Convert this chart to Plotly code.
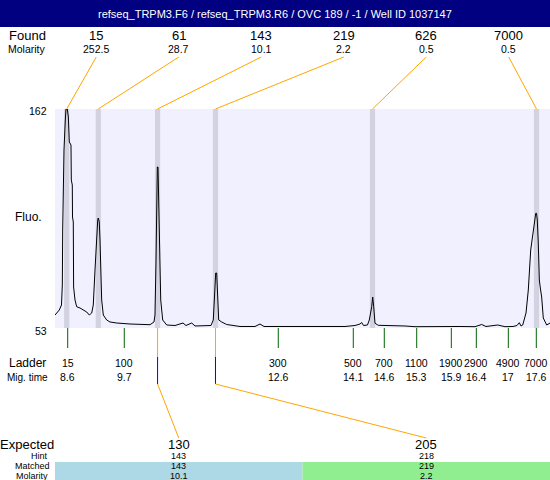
import plotly.graph_objects as go

W, H = 550, 480
title_text = "refseq_TRPM3.F6 / refseq_TRPM3.R6 / OVC 189 / -1 / Well ID 1037147"

# ---- electropherogram trace (migration time, fluorescence) ----
trace_time = [8.357, 8.439, 8.481, 8.497, 8.504, 8.514, 8.529, 8.554, 8.567, 8.592,
              8.612, 8.631, 8.663, 8.669, 8.688, 8.692, 8.707, 8.713, 8.740, 8.772,
              8.836, 8.964, 9.014, 9.060, 9.090, 9.123, 9.156, 9.175, 9.186, 9.205,
              9.219, 9.232, 9.251, 9.282, 9.347, 9.410, 9.539, 9.794, 10.177, 10.253,
              10.272, 10.292, 10.305, 10.317, 10.330, 10.343, 10.355, 10.382, 10.420, 10.497,
              10.656, 10.809, 10.866, 10.976, 11.039, 11.230, 11.345, 11.389, 11.412, 11.435,
              11.454, 11.474, 11.493, 11.550, 11.646, 11.901, 12.188, 12.284, 12.361, 12.859,
              13.433, 13.912, 14.104, 14.200, 14.232, 14.267, 14.343, 14.378, 14.424, 14.443,
              14.462, 14.487, 14.550, 14.774, 15.062, 15.253, 15.541, 15.828, 16.115, 16.403,
              16.531, 16.613, 16.838, 16.977, 17.131, 17.207, 17.251, 17.284, 17.317, 17.380,
              17.424, 17.470, 17.520, 17.566, 17.581, 17.596, 17.615, 17.635, 17.654, 17.680,
              17.711, 17.776, 17.840]
trace_fluo = [59.47, 61.96, 64.45, 74.40, 101.78, 116.71, 141.59, 156.53, 162.00, 162.00,
              158.02, 145.58, 144.08, 126.66, 124.17, 108.25, 105.76, 73.41, 66.94, 63.60,
              62.95, 60.96, 59.47, 60.47, 64.45, 81.87, 101.78, 106.75, 107.75, 105.76,
              96.80, 76.89, 66.94, 59.47, 56.98, 55.99, 55.49, 54.99, 54.64, 55.99,
              59.47, 86.84, 116.71, 133.13, 133.13, 116.71, 83.86, 66.94, 56.98, 54.49,
              54.24, 55.49, 54.24, 55.49, 54.00, 54.00, 54.24, 56.98, 71.91, 80.37,
              80.37, 68.43, 56.98, 55.99, 54.74, 53.75, 53.75, 54.99, 53.75, 53.75,
              53.65, 53.75, 54.24, 54.99, 55.74, 54.24, 54.49, 56.98, 63.60, 68.43,
              63.60, 55.34, 54.34, 54.24, 54.00, 53.65, 53.75, 53.65, 53.75, 53.65,
              54.74, 53.75, 54.49, 53.65, 53.75, 54.24, 55.64, 54.00, 54.49, 60.47,
              71.91, 91.82, 100.28, 110.09, 110.09, 106.75, 95.31, 76.89, 72.91, 68.43,
              57.98, 54.49, 55.49]

# ---- found peaks ----
found_size = ["15", "61", "143", "219", "626", "7000"]
found_molarity = ["252.5", "28.7", "10.1", "2.2", "0.5", "0.5"]
found_time = [8.581, 9.186, 10.322, 11.431, 14.439, 17.581]

# ---- ladder ----
ladder_size = ["15", "100", "300", "500", "700", "1100", "1900", "2900", "4900", "7000"]
ladder_mig = ["8.6", "9.7", "12.6", "14.1", "14.6", "15.3", "15.9", "16.4", "17", "17.6"]
ladder_time = [8.6, 9.684, 12.634, 14.071, 14.665, 15.286, 15.949, 16.428, 17.041, 17.577]

# ---- expected / matched ----
expected = ["130", "205"]
hint = ["143", "218"]
matched = ["143", "219"]
matched_molarity = ["10.1", "2.2"]
matched_time = [10.322, 11.431]
matched_colors = ["#ADD8E6", "#90EE90"]

y_range = [53, 162]
x_range = [8.3567, 17.8395]

# ---- layout geometry (pixels) ----
PL, PR, PT, PB = 55, 550, 109, 328
FONT = "Liberation Sans, Arial, sans-serif"
ORANGE = "#FFA500"


def X(px):
    return px / W


def Y(py):
    return 1 - py / H


def T(px):
    return x_range[0] + (px - PL) / (PR - PL) * (x_range[1] - x_range[0])


fig = go.Figure()
fig.add_trace(go.Scatter(x=trace_time, y=trace_fluo, mode="lines",
                         line=dict(color="black", width=1), hoverinfo="skip",
                         showlegend=False))

shapes = []
annotations = []


def txt(px, py, s, size, color="black", xanchor="center"):
    annotations.append(dict(x=X(px), y=Y(py), xref="paper", yref="paper", text=s,
                            showarrow=False, xanchor=xanchor, yanchor="middle",
                            borderpad=0,
                            font=dict(family=FONT, size=size, color=color)))


# title bar
shapes.append(dict(type="rect", xref="paper", yref="paper", x0=0, x1=1, y0=Y(27), y1=1,
                   fillcolor="#000080", line=dict(width=0), layer="below"))
txt(275, 14, title_text, 11, color="white")

# peak bands
for t in found_time:
    shapes.append(dict(type="rect", xref="x", yref="paper", x0=t - 0.05, x1=t + 0.05,
                       y0=Y(PB), y1=Y(PT), fillcolor="rgb(210,210,224)",
                       line=dict(width=0), layer="below"))

# found header
n = len(found_size)
slot = (PR - PL) / n
txt(27, 36, "Found", 13)
txt(27, 49, "Molarity", 10.5)
for i in range(n):
    cx = PL + slot * (i + 0.5)
    txt(cx, 36, found_size[i], 13)
    txt(cx, 49, found_molarity[i], 10.5)
    shapes.append(dict(type="line", xref="x", yref="paper", x0=T(cx), y0=Y(57),
                       x1=found_time[i], y1=Y(PT), line=dict(color=ORANGE, width=1)))

# y labels
txt(48, 111, "162", 10.5, xanchor="right")
txt(48, 331, "53", 10.5, xanchor="right")
txt(28, 217, "Fluo.", 12)

# ladder
txt(27, 363, "Ladder", 12)
txt(27, 377, "Mig. time", 10)
for s, m, t in zip(ladder_size, ladder_mig, ladder_time):
    shapes.append(dict(type="line", xref="x", yref="paper", x0=t, x1=t, y0=Y(PB), y1=Y(348),
                       line=dict(color="#006400", width=1)))
    px = PL + (t - x_range[0]) / (x_range[1] - x_range[0]) * (PR - PL)
    txt(px, 363, s, 10.5)
    txt(px, 377, m, 10.5)

# expected / matched
ne = len(expected)
eslot = (PR - PL) / ne
ROW_HINT, ROW_MATCH, ROW_MOL = 455.8, 465.8, 475.5
txt(27, 444, "Expected", 13)
txt(39, ROW_HINT, "Hint", 9)
txt(32, ROW_MATCH, "Matched", 9)
txt(32, ROW_MOL, "Molarity", 9)
for j in range(ne):
    cx = PL + eslot * (j + 0.5)
    t = matched_time[j]
    shapes.append(dict(type="rect", xref="paper", yref="paper", x0=X(PL + eslot * j),
                       x1=X(PL + eslot * (j + 1)), y0=0, y1=Y(462),
                       fillcolor=matched_colors[j], line=dict(width=0), layer="below"))
    shapes.append(dict(type="line", xref="x", yref="paper", x0=t, x1=t, y0=Y(PB), y1=Y(357),
                       line=dict(color=ORANGE, width=1)))
    shapes.append(dict(type="line", xref="x", yref="paper", x0=t, x1=t, y0=Y(357), y1=Y(384),
                       line=dict(color="#0000FF", width=1)))
    shapes.append(dict(type="line", xref="x", yref="paper", x0=t, x1=T(cx), y0=Y(384), y1=Y(438),
                       line=dict(color=ORANGE, width=1)))
    txt(cx, 444, expected[j], 13)
    txt(cx, ROW_HINT, hint[j], 9)
    txt(cx, ROW_MATCH, matched[j], 9)
    txt(cx, ROW_MOL, matched_molarity[j], 9)

fig.update_layout(
    width=W, height=H,
    margin=dict(l=0, r=0, t=0, b=0),
    paper_bgcolor="white",
    plot_bgcolor="#F0F0FF",
    showlegend=False,
    xaxis=dict(range=x_range, domain=[X(PL), X(PR)], visible=False, fixedrange=True),
    yaxis=dict(range=y_range, domain=[Y(PB), Y(PT)], visible=False, fixedrange=True),
    shapes=shapes,
    annotations=annotations,
)

fig.write_html("out.html", config={"displayModeBar": False},
               post_script="document.body.style.margin='0px';"
                           "document.body.style.overflow='hidden';")
